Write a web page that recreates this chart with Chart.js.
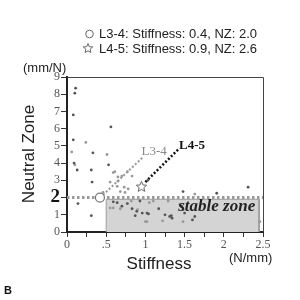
<!DOCTYPE html>
<html>
<head>
<meta charset="utf-8">
<script src="https://cdn.jsdelivr.net/npm/chart.js@4/dist/chart.umd.min.js"></script>
<style>
  html, body { margin: 0; padding: 0; background: #fff; }
  #chart { display: block; }
</style>
</head>
<body>
<canvas id="chart" width="300" height="300"></canvas>
<script>
// 散布図のデータ（濃い点）
const darkStiffness = [0.11, 0.10, 0.08, 0.56, 0.08, 0.33, 0.09, 0.13, 0.31, 0.53, 0.32, 0.14, 0.31,
  0.59, 0.64, 0.70, 0.77, 0.83, 0.89, 0.93, 0.96, 1.02, 1.04, 0.87, 1.25, 1.33, 1.17, 1.31,
  1.46, 1.48, 1.50, 1.60, 1.63, 1.34, 1.48, 1.91, 2.31, 1.03];
const darkNZ = [8.35, 8.06, 6.8, 6.1, 5.35, 4.6, 4.0, 3.6, 3.6, 3.9, 2.9, 1.65, 0.95,
  1.75, 1.7, 1.5, 1.65, 1.35, 1.2, 1.8, 1.1, 1.1, 1.05, 0.95, 1.0, 0.95, 1.35, 0.9,
  1.5, 1.3, 1.1, 0.7, 0.9, 0.8, 2.35, 2.25, 2.6, 3.0];

// 散布図のデータ（薄い点）
const lightStiffness = [0.24, 0.06, 0.51, 0.10, 0.59, 0.61, 0.65, 0.83, 0.55, 0.64, 0.73, 0.78, 0.68,
  0.74, 0.46, 0.59, 0.55, 0.68, 0.82, 1.05, 1.10, 1.29, 1.00, 1.22, 1.02, 1.48, 1.44, 2.46,
  1.63, 0.90, 0.65, 0.70, 0.77];
const lightNZ = [5.2, 4.65, 4.5, 3.9, 3.45, 3.5, 3.2, 3.25, 2.9, 2.65, 2.6, 2.5, 2.35,
  2.3, 2.3, 1.4, 1.4, 1.35, 1.8, 1.7, 1.8, 1.8, 0.6, 0.65, 0.6, 0.6, 1.6, 0.6,
  2.2, 1.3, 2.95, 3.25, 3.5];

// 注目する2点
const l34 = { x: 0.42, y: 2.0 };
const l45 = { x: 0.95, y: 2.65 };

// 安定ゾーンと補助線
const stableZone = [{ x: 0.5, y: 0 }, { x: 0.5, y: 1.9 }, { x: 2.45, y: 1.9 }, { x: 2.45, y: 0 }];
const thresholdLine = [{ x: 0, y: 2 }, { x: 2.5, y: 2 }];
const l34Leader = [{ x: 0.46, y: 2.15 }, { x: 0.97, y: 4.35 }];
const l45Leader = [{ x: 1.0, y: 2.9 }, { x: 1.42, y: 4.8 }];

const yTicks = [0, 1, 2, 3, 4, 5, 6, 7, 8, 9];

const SANS = '"Liberation Sans", Arial, sans-serif';
const SERIF = '"Liberation Serif", "Times New Roman", serif';

function toPoints(xs, ys) {
  return xs.map((x, i) => ({ x: x, y: ys[i] }));
}

// 星マーカーをキャンバスに描く
function makeStar(size, color) {
  const c = document.createElement("canvas");
  c.width = size;
  c.height = size;
  const g = c.getContext("2d");
  const cx = size / 2, cy = size / 2 + 0.5;
  const ro = size / 2 - 1, ri = ro * 0.45;
  g.beginPath();
  for (let i = 0; i < 10; i++) {
    const r = i % 2 === 0 ? ro : ri;
    const a = -Math.PI / 2 + (i * Math.PI) / 5;
    const px = cx + r * Math.cos(a), py = cy + r * Math.sin(a);
    if (i === 0) g.moveTo(px, py); else g.lineTo(px, py);
  }
  g.closePath();
  g.fillStyle = "#fff";
  g.fill();
  g.strokeStyle = color;
  g.lineWidth = 1;
  g.stroke();
  return c;
}

const starImg = makeStar(13, "#666");
const starLegend = makeStar(12, "#666");

// 文字や枠を描くプラグイン
const annotate = {
  id: "annotate",
  afterDatasetsDraw(chart) {
    const ctx = chart.ctx;
    const xs = chart.scales.x, ys = chart.scales.y;
    ctx.save();
    ctx.textBaseline = "middle";

    ctx.fillStyle = "#888";
    ctx.font = "13px " + SERIF;
    ctx.textAlign = "left";
    ctx.fillText("L3-4", xs.getPixelForValue(0.95), ys.getPixelForValue(4.65));

    ctx.fillStyle = "#111";
    ctx.font = "bold 13px " + SERIF;
    ctx.fillText("L4-5", xs.getPixelForValue(1.43), ys.getPixelForValue(5.0));

    ctx.font = "italic bold 17px " + SERIF;
    ctx.fillStyle = "#222";
    ctx.textAlign = "center";
    ctx.fillText("stable zone", xs.getPixelForValue(1.91), ys.getPixelForValue(1.5));
    ctx.restore();
  },
  afterDraw(chart) {
    const ctx = chart.ctx;
    const a = chart.chartArea;
    ctx.save();
    // 上と右の枠
    ctx.strokeStyle = "#444";
    ctx.lineWidth = 1;
    ctx.beginPath();
    ctx.moveTo(a.left, a.top + 0.5);
    ctx.lineTo(a.right + 0.5, a.top + 0.5);
    ctx.lineTo(a.right + 0.5, a.bottom);
    ctx.stroke();

    ctx.fillStyle = "#222";
    ctx.textBaseline = "middle";
    ctx.font = "13px " + SANS;
    ctx.textAlign = "left";
    ctx.fillText("(mm/N)", 23, 68);
    ctx.fillText("(N/mm)", 229, 258);

    ctx.font = "17px " + SANS;
    ctx.textAlign = "center";
    ctx.fillText("Stiffness", 159, 264);

    ctx.save();
    ctx.translate(29, 154);
    ctx.rotate(-Math.PI / 2);
    ctx.fillText("Neutral Zone", 0, 0);
    ctx.restore();

    // 凡例
    ctx.font = "13px " + SANS;
    ctx.textAlign = "left";
    ctx.fillText("L3-4: Stiffness: 0.4, NZ: 2.0", 99, 34);
    ctx.fillText("L4-5: Stiffness: 0.9, NZ: 2.6", 99, 49);
    ctx.strokeStyle = "#666";
    ctx.beginPath();
    ctx.arc(89.5, 34, 3.8, 0, Math.PI * 2);
    ctx.stroke();
    ctx.drawImage(starLegend, 82, 42);

    ctx.font = "bold 11px " + SANS;
    ctx.fillStyle = "#111";
    ctx.fillText("B", 4, 291);
    ctx.restore();
  },
};

const ctx = document.getElementById("chart").getContext("2d");
const myChart = new Chart(ctx, {
  type: "scatter",
  data: {
    datasets: [
      {
        data: toPoints(darkStiffness, darkNZ),
        pointRadius: 1.4,
        pointBorderWidth: 0,
        pointBackgroundColor: "#555",
        order: 2,
      },
      {
        data: toPoints(lightStiffness, lightNZ),
        pointRadius: 1.4,
        pointBorderWidth: 0,
        pointBackgroundColor: "#999",
        order: 2,
      },
      {
        data: stableZone,
        showLine: true,
        pointRadius: 0,
        borderColor: "#9a9a9a",
        borderWidth: 1,
        backgroundColor: "#d4d4d4",
        fill: "origin",
        order: 10,
      },
      {
        data: thresholdLine,
        showLine: true,
        pointRadius: 0,
        borderColor: "#999",
        borderWidth: 3,
        borderDash: [2.5, 2.5],
        order: 5,
      },
      {
        data: l34Leader,
        showLine: true,
        pointRadius: 0,
        borderColor: "#999",
        borderWidth: 2,
        borderDash: [2, 2],
        order: 5,
      },
      {
        data: l45Leader,
        showLine: true,
        pointRadius: 0,
        borderColor: "#111",
        borderWidth: 2.5,
        borderDash: [2, 2],
        order: 5,
      },
      {
        data: [l34],
        pointStyle: "circle",
        pointRadius: 4.5,
        pointBorderWidth: 1.2,
        pointBorderColor: "#777",
        pointBackgroundColor: "#fff",
        order: 0,
      },
      {
        data: [l45],
        pointStyle: starImg,
        order: 0,
      },
    ],
  },
  options: {
    responsive: false,
    animation: false,
    devicePixelRatio: 1,
    layout: { padding: { top: 77, right: 37, left: 0, bottom: 0 } },
    plugins: {
      legend: { display: false },
      tooltip: { enabled: false },
    },
    scales: {
      x: {
        type: "linear",
        min: 0,
        max: 2.5,
        afterFit: (s) => { s.height = 68; },
        border: { color: "#222", width: 2 },
        grid: { drawOnChartArea: false, drawTicks: true, tickLength: 5, tickColor: "#333" },
        ticks: {
          stepSize: 0.25,
          autoSkip: false,
          maxRotation: 0,
          padding: 1,
          color: "#555",
          font: { family: SERIF, size: 12 },
          callback: (v) => {
            if (Math.round(v * 100) % 50 !== 0) return "";
            return v === 0.5 ? ".5" : String(v);
          },
        },
      },
      y: {
        type: "linear",
        min: 0,
        max: 9,
        afterFit: (s) => { s.width = 67; },
        afterBuildTicks: (s) => { s.ticks = yTicks.map((v) => ({ value: v })); },
        border: { color: "#222", width: 2 },
        grid: { drawOnChartArea: false, drawTicks: true, tickLength: 6, tickColor: "#333" },
        ticks: {
          autoSkip: false,
          padding: 1,
          color: (c) => (c.tick && c.tick.value === 2 ? "#111" : "#555"),
          font: (c) =>
            c.tick && c.tick.value === 2
              ? { family: SERIF, size: 19, weight: "bold" }
              : { family: SERIF, size: 12 },
        },
      },
    },
  },
  plugins: [annotate],
});
</script>
</body>
</html>
